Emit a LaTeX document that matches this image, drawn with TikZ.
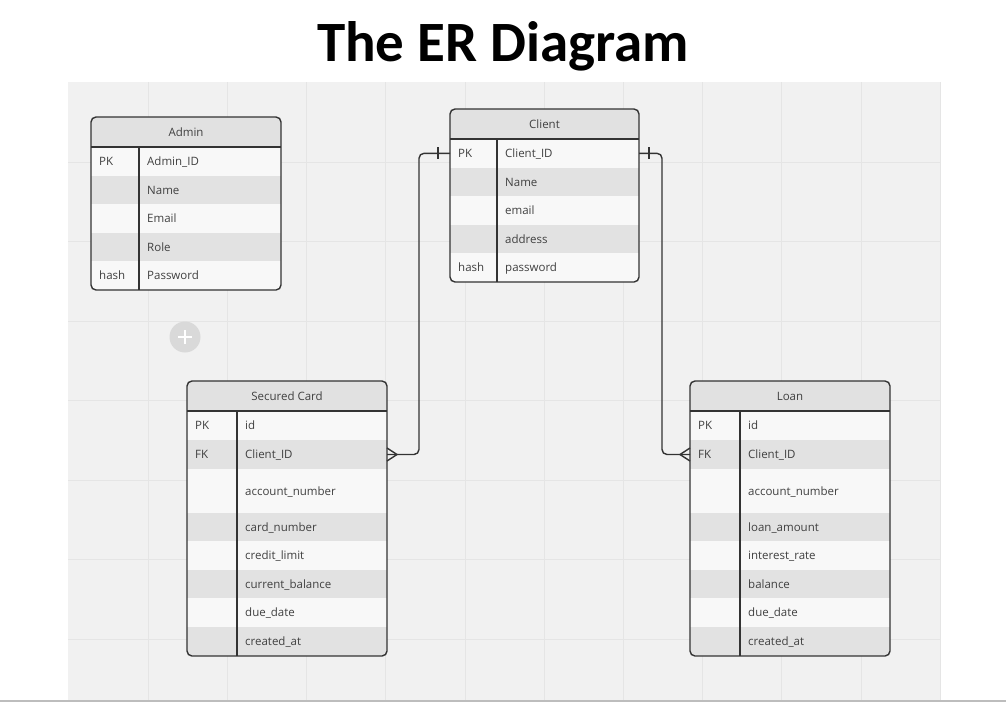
\documentclass[tikz,border=0pt]{standalone}
\usepackage{fontspec}
\setmainfont{Open Sans}
\newfontfamily\titlefont{Carlito}

\definecolor{canvas}{HTML}{F1F1F1}
\definecolor{gridline}{HTML}{E5E5E5}
\definecolor{rowlight}{HTML}{F8F8F8}
\definecolor{rowdark}{HTML}{E2E2E2}
\definecolor{headfill}{HTML}{E1E1E1}
\definecolor{inktext}{HTML}{404040}
\definecolor{edge}{HTML}{333333}
\definecolor{plusfill}{HTML}{D9D9D9}
\definecolor{floorline}{HTML}{BDBDBD}

\begin{document}
\begin{tikzpicture}[x=1pt, y=-1pt,
    rowbox/.style={rectangle, inner sep=0pt, outer sep=0pt},
    cell/.style={anchor=west, inner sep=0pt, text=inktext, text height=8.2pt, text depth=0pt,
      font=\fontsize{11.5}{13}\selectfont},
    tabletitle/.style={inner sep=0pt, text=inktext, text height=8.2pt, text depth=0pt,
      font=\fontsize{11.5}{13}\selectfont},
    frame/.style={draw=edge, line width=1.4pt, rounded corners=5pt},
    rule/.style={draw=edge, line width=1.4pt},
    link/.style={draw=edge, line width=1.4pt, rounded corners=5pt}]
    \useasboundingbox (0,0) rectangle (1006,702);

    % Canvas and grid
    \fill[canvas] (68,82) rectangle (940,702);
    \foreach \gx in {148,227.2,...,940} \draw[gridline] (\gx,82) -- (\gx,702);
    \foreach \gy in {162,241.5,...,700} \draw[gridline] (68,\gy) -- (940,\gy);
    \draw[floorline, line width=2pt] (0,701) -- (1006,701);

    % Title
    \node[anchor=base, inner sep=0pt, font=\titlefont\bfseries\fontsize{57}{60}\selectfont] (title) at (503,61) {The ER Diagram};

    % Admin table
    \begin{scope}
        \clip[rounded corners=5pt] (91,117) rectangle (281,290);
        \fill[headfill] (91,117) rectangle (281,147);
        \foreach \key/\name/\ya/\yb/\shade [count=\i] in {PK/Admin\_ID/147/176/rowlight, /Name/176/204/rowdark,
            /Email/204/233/rowlight, /Role/233/261/rowdark, hash/Password/261/290/rowlight}
            \node[rowbox, fill=\shade, minimum width=190pt, minimum height={(\yb-\ya)*1pt}] (admin-\i) at (186,{(\ya+\yb)/2}) {};
    \end{scope}
    \foreach \key/\name/\ya/\yb [count=\i] in {PK/Admin\_ID/147/176, /Name/176/204,
        /Email/204/233, /Role/233/261, hash/Password/261/290} {
        \node[cell] (admin-k\i) at (99,{(\ya+\yb)/2}) {\key};
        \node[cell] (admin-n\i) at (147,{(\ya+\yb)/2}) {\name};
    }
    \node[tabletitle] (admin-title) at (186,132) {Admin};
    \draw[frame] (91,117) rectangle (281,290);
    \draw[rule] (91,147) -- (281,147) (139,147) -- (139,290);

    % Client table
    \begin{scope}
        \clip[rounded corners=5pt] (450,109) rectangle (639,282);
        \fill[headfill] (450,109) rectangle (639,139);
        \foreach \key/\name/\ya/\yb/\shade [count=\i] in {PK/Client\_ID/139/167.6/rowlight, /Name/167.6/196.2/rowdark,
            /email/196.2/224.8/rowlight, /address/224.8/253.4/rowdark, hash/password/253.4/282/rowlight}
            \node[rowbox, fill=\shade, minimum width=189pt, minimum height={(\yb-\ya)*1pt}] (client-\i) at (544.5,{(\ya+\yb)/2}) {};
    \end{scope}
    \foreach \key/\name/\ya/\yb [count=\i] in {PK/Client\_ID/139/167.6, /Name/167.6/196.2,
        /email/196.2/224.8, /address/224.8/253.4, hash/password/253.4/282} {
        \node[cell] (client-k\i) at (458,{(\ya+\yb)/2}) {\key};
        \node[cell] (client-n\i) at (505,{(\ya+\yb)/2}) {\name};
    }
    \node[tabletitle] (client-title) at (544.5,124) {Client};
    \draw[frame] (450,109) rectangle (639,282);
    \draw[rule] (450,139) -- (639,139) (497,139) -- (497,282);

    % Secured Card table
    \begin{scope}
        \clip[rounded corners=5pt] (187,381) rectangle (387,656);
        \fill[headfill] (187,381) rectangle (387,411);
        \foreach \key/\name/\ya/\yb/\shade [count=\i] in {PK/id/411/440/rowlight, FK/Client\_ID/440/469/rowdark,
            /account\_number/469/513/rowlight, /card\_number/513/541/rowdark, /credit\_limit/541/570/rowlight,
            /current\_balance/570/598/rowdark, /due\_date/598/627/rowlight, /created\_at/627/656/rowdark}
            \node[rowbox, fill=\shade, minimum width=200pt, minimum height={(\yb-\ya)*1pt}] (card-\i) at (287,{(\ya+\yb)/2}) {};
    \end{scope}
    \foreach \key/\name/\ya/\yb [count=\i] in {PK/id/411/440, FK/Client\_ID/440/469,
        /account\_number/469/513, /card\_number/513/541, /credit\_limit/541/570,
        /current\_balance/570/598, /due\_date/598/627, /created\_at/627/656} {
        \node[cell] (card-k\i) at (195,{(\ya+\yb)/2}) {\key};
        \node[cell] (card-n\i) at (245,{(\ya+\yb)/2}) {\name};
    }
    \node[tabletitle] (card-title) at (287,396) {Secured Card};
    \draw[frame] (187,381) rectangle (387,656);
    \draw[rule] (187,411) -- (387,411) (237,411) -- (237,656);

    % Loan table
    \begin{scope}
        \clip[rounded corners=5pt] (690,381) rectangle (890,656);
        \fill[headfill] (690,381) rectangle (890,411);
        \foreach \key/\name/\ya/\yb/\shade [count=\i] in {PK/id/411/440/rowlight, FK/Client\_ID/440/469/rowdark,
            /account\_number/469/513/rowlight, /loan\_amount/513/541/rowdark, /interest\_rate/541/570/rowlight,
            /balance/570/598/rowdark, /due\_date/598/627/rowlight, /created\_at/627/656/rowdark}
            \node[rowbox, fill=\shade, minimum width=200pt, minimum height={(\yb-\ya)*1pt}] (loan-\i) at (790,{(\ya+\yb)/2}) {};
    \end{scope}
    \foreach \key/\name/\ya/\yb [count=\i] in {PK/id/411/440, FK/Client\_ID/440/469,
        /account\_number/469/513, /loan\_amount/513/541, /interest\_rate/541/570,
        /balance/570/598, /due\_date/598/627, /created\_at/627/656} {
        \node[cell] (loan-k\i) at (698,{(\ya+\yb)/2}) {\key};
        \node[cell] (loan-n\i) at (748,{(\ya+\yb)/2}) {\name};
    }
    \node[tabletitle] (loan-title) at (790,396) {Loan};
    \draw[frame] (690,381) rectangle (890,656);
    \draw[rule] (690,411) -- (890,411) (740,411) -- (740,656);

    % Add button
    \node[circle, fill=plusfill, minimum size=31pt, inner sep=0pt] (addbtn) at (185,337) {};
    \draw[white, line width=1.8pt] (addbtn.center) ++(-7,0) -- ++(14,0) (addbtn.center) ++(0,-7) -- ++(0,14);

    % Relationships: Client one-to-many
    \draw[link] (client-1.west) -- ++(-31,0) |- (card-2.east);
    \draw[rule] (client-1.west) ++(-12,-6) -- ++(0,12);
    \draw[rule] (card-2.east) ++(0,-6.5) -- ++(10,6.5) -- ++(-10,6.5);
    \draw[link] (client-1.east) -- ++(23,0) |- (loan-2.west);
    \draw[rule] (client-1.east) ++(10,-6) -- ++(0,12);
    \draw[rule] (loan-2.west) ++(0,-6.5) -- ++(-10,6.5) -- ++(10,6.5);
\end{tikzpicture}
\end{document}
